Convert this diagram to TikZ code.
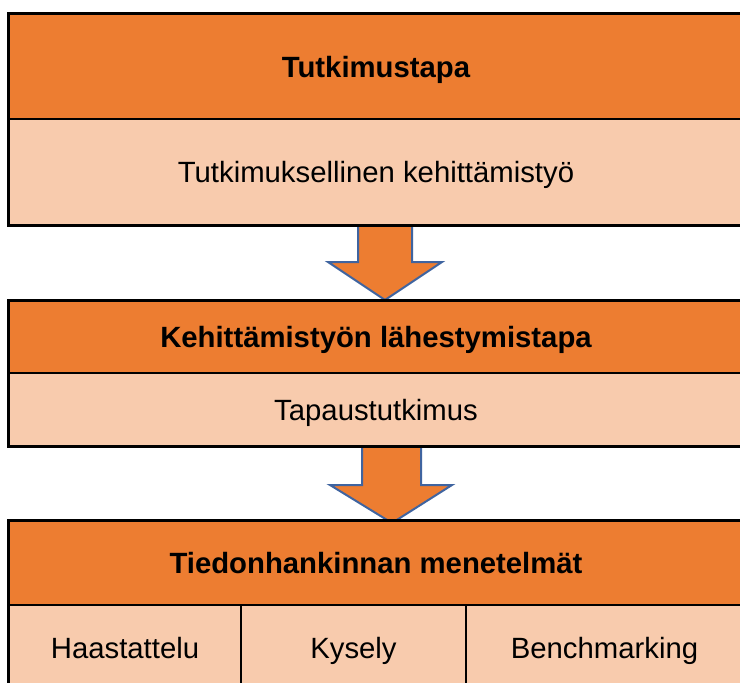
\documentclass[tikz,border=0pt]{standalone}
\usepackage{fontspec}
\setmainfont{Liberation Sans}
\definecolor{darkor}{HTML}{ED7D31}
\definecolor{lightor}{HTML}{F8CBAD}
\definecolor{arrowblue}{HTML}{3F64A0}
\begin{document}
\begin{tikzpicture}[x=1pt,y=-1pt,
  cell/.style={draw=black, line width=1.4pt, inner sep=0pt, text height=21pt, text depth=0pt,
    font=\fontsize{29.3}{35}\selectfont, align=center},
  hdr/.style={cell, fill=darkor, font=\fontsize{29.3}{35}\selectfont\bfseries},
  body/.style={cell, fill=lightor},
  frame/.style={draw=black, line width=2pt},
  blockarrow/.style={draw=arrowblue, fill=darkor, line width=2pt, line join=miter}]
\useasboundingbox (0,0) rectangle (740,683);
\clip (0,0) rectangle (740,683);
\fill[white] (0,0) rectangle (740,683);
% block arrows
\draw[blockarrow] (358,225) -- (412,225) -- (412,262) -- (442,262) -- (385,300) -- (328,262) -- (358,262) -- cycle;
\draw[blockarrow] (362,446) -- (421,446) -- (421,485) -- (452,485) -- (392,523) -- (330,485) -- (362,485) -- cycle;
% box 1
\node[hdr, minimum width=734pt, minimum height=105pt] (h1) at (376,66.5) {Tutkimustapa};
\node[body, minimum width=734pt, minimum height=106pt] (b1) at (376,172) {Tutkimuksellinen kehittämistyö};
\draw[frame] (h1.north west) rectangle (b1.south east);
% box 2
\node[hdr, minimum width=734pt, minimum height=72pt] (h2) at (376,337) {Kehittämistyön lähestymistapa};
\node[body, minimum width=734pt, minimum height=73pt] (b2) at (376,409.5) {Tapaustutkimus};
\draw[frame] (h2.north west) rectangle (b2.south east);
% box 3
\node[hdr, minimum width=734pt, minimum height=84pt] (h3) at (376,563) {Tiedonhankinnan menetelmät};
\node[body, minimum width=232pt, minimum height=85pt] (c1) at (125,647.5) {Haastattelu};
\node[body, minimum width=225pt, minimum height=85pt] (c2) at (353.5,647.5) {Kysely};
\node[body, minimum width=277pt, minimum height=85pt] (c3) at (604.5,647.5) {Benchmarking};
\draw[frame] (h3.north west) rectangle (c3.south east);
\end{tikzpicture}
\end{document}
